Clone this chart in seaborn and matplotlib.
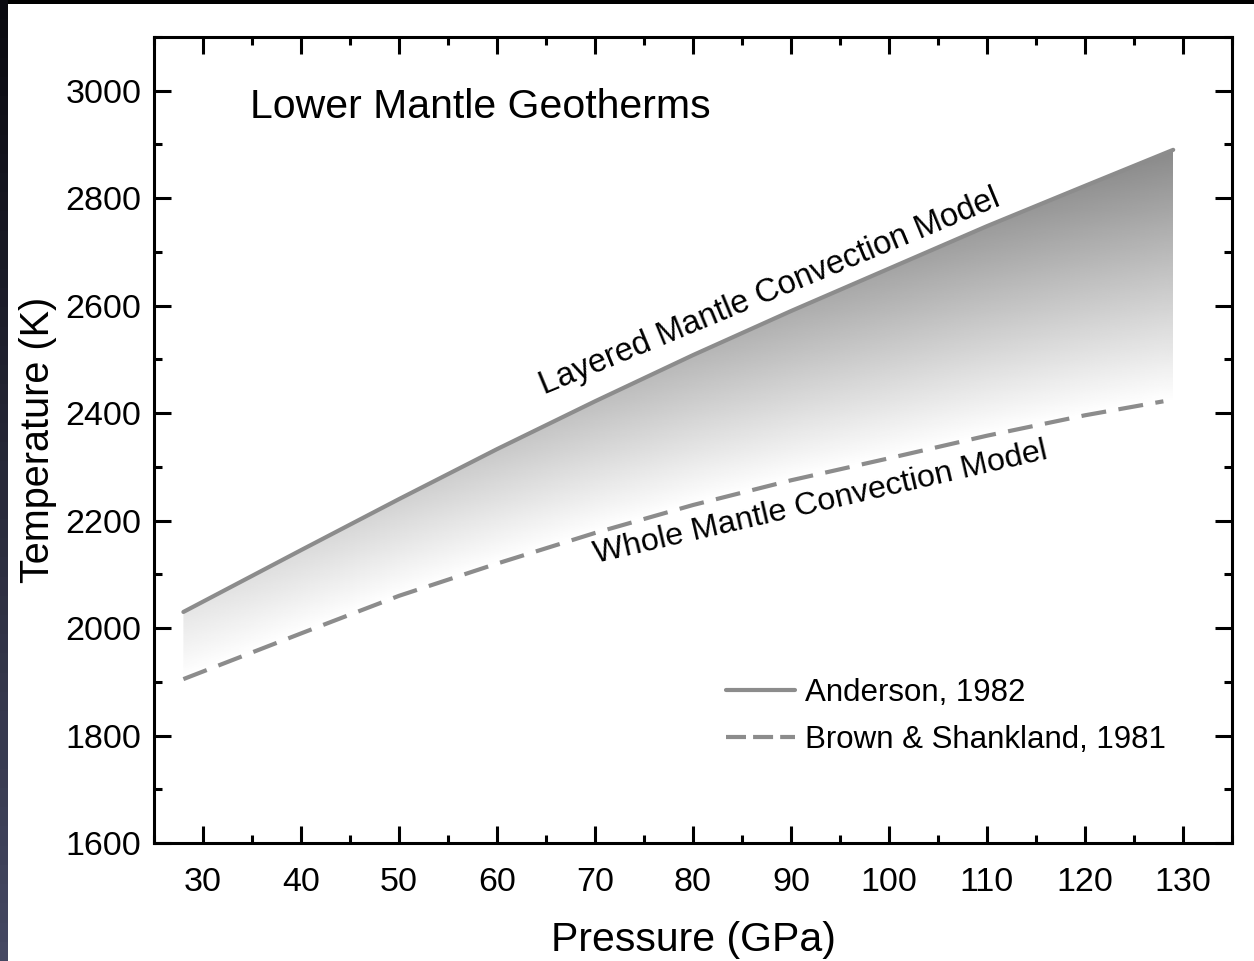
import numpy as np
import pandas as pd
import matplotlib
matplotlib.use("Agg")
import matplotlib.pyplot as plt
import seaborn as sns
from matplotlib.ticker import MultipleLocator

# data
anderson_p = [28, 40, 50, 60, 70, 80, 90, 100, 110, 120, 129]
anderson_t = [2030, 2145, 2240, 2333, 2422, 2508, 2590, 2669, 2748, 2823, 2890]
brown_p = [28, 40, 50, 60, 70, 80, 90, 100, 110, 120, 128]
brown_t = [1905, 1990, 2060, 2120, 2177, 2229, 2275, 2316, 2358, 2396, 2422]

line_color = "#8c8c8c"

sns.set_theme(style="ticks")
plt.rcParams["font.family"] = ["Liberation Sans", "DejaVu Sans"]
plt.rcParams.update({"text.color": "black", "axes.labelcolor": "black",
                     "xtick.color": "black", "ytick.color": "black"})

fig = plt.figure(figsize=(12.54, 9.61), dpi=100)
ax = fig.add_axes([154 / 1254, 118 / 961, 1078 / 1254, 806 / 961])

anderson = pd.DataFrame({"P": anderson_p, "T": anderson_t})
brown = pd.DataFrame({"P": brown_p, "T": brown_t})

# gradient fill between the two geotherms
grid_p = np.linspace(anderson_p[0], anderson_p[-1], 400)
upper = np.interp(grid_p, anderson_p, anderson_t)
lower = np.interp(grid_p, brown_p, brown_t)
poly = ax.fill_between(grid_p, lower, upper, color="none", lw=0)

t_top, t_bot = 2900, 1890
gy = np.linspace(t_top, t_bot, 500)
frac = (gy[:, None] - lower[None, :]) / (upper - lower)[None, :]
frac = np.clip(frac, 0, 1)
depth = np.interp(grid_p, [28, 129], [0.10, 0.46])
shade = 1 - depth[None, :] * frac
img = ax.imshow(shade, cmap="gray", vmin=0, vmax=1, aspect="auto",
                extent=[grid_p[0], grid_p[-1], t_bot, t_top], zorder=1,
                interpolation="bilinear")
img.set_clip_path(poly.get_paths()[0], transform=ax.transData)

sns.lineplot(data=anderson, x="P", y="T", ax=ax, color=line_color, lw=3,
             label="Anderson, 1982", zorder=3)
sns.lineplot(data=brown, x="P", y="T", ax=ax, color=line_color, lw=3,
             linestyle=(0, (6, 3)), label="Brown & Shankland, 1981", zorder=3)

ax.set_xlim(25, 135)
ax.set_ylim(1600, 3100)
ax.xaxis.set_major_locator(MultipleLocator(10))
ax.xaxis.set_minor_locator(MultipleLocator(5))
ax.yaxis.set_major_locator(MultipleLocator(200))
ax.yaxis.set_minor_locator(MultipleLocator(100))
ax.tick_params(which="both", direction="in", top=True, right=True,
               width=2.2, color="black", labelsize=24.5)
ax.tick_params(which="major", length=12)
ax.tick_params(which="minor", length=6)
ax.tick_params(axis="x", pad=17)
ax.tick_params(axis="y", pad=9)
for s in ax.spines.values():
    s.set_linewidth(2.2)
    s.set_color("black")

ax.set_xlabel("Pressure (GPa)", fontsize=29.5, labelpad=17)
ax.set_ylabel("Temperature (K)", fontsize=28.5, labelpad=6)

ax.text(0.089, 0.9, "Lower Mantle Geotherms", transform=ax.transAxes,
        fontsize=29.5, va="baseline", ha="left")
ax.text(87.8, 2625, "Layered Mantle Convection Model", fontsize=23.5,
        rotation=22.5, ha="center", va="center", rotation_mode="anchor")
ax.text(93.0, 2232, "Whole Mantle Convection Model", fontsize=23.2,
        rotation=13, ha="center", va="center", rotation_mode="anchor")

leg = ax.legend(loc="center left", bbox_to_anchor=(0.531, 0.157),
                frameon=False, fontsize=22.5, handlelength=2.2,
                handletextpad=0.32, labelspacing=0.55, borderpad=0,
                borderaxespad=0)
leg.get_lines()[1].set_dashes((4.8, 1.7))

# dark frame strips at top and left edge of the original figure
top = fig.add_axes([0, 1 - 4 / 961, 1, 4 / 961])
top.set_axis_off()
top.imshow([[0]], cmap="gray", vmin=0, vmax=1, aspect="auto")
left = fig.add_axes([0, 0, 8 / 1254, 1])
left.set_axis_off()
left.imshow(np.linspace(0, 1, 50)[:, None], cmap=sns.blend_palette(
    ["#0a0a10", "#454862"], as_cmap=True), aspect="auto")

fig.savefig("out.png", dpi=100)
